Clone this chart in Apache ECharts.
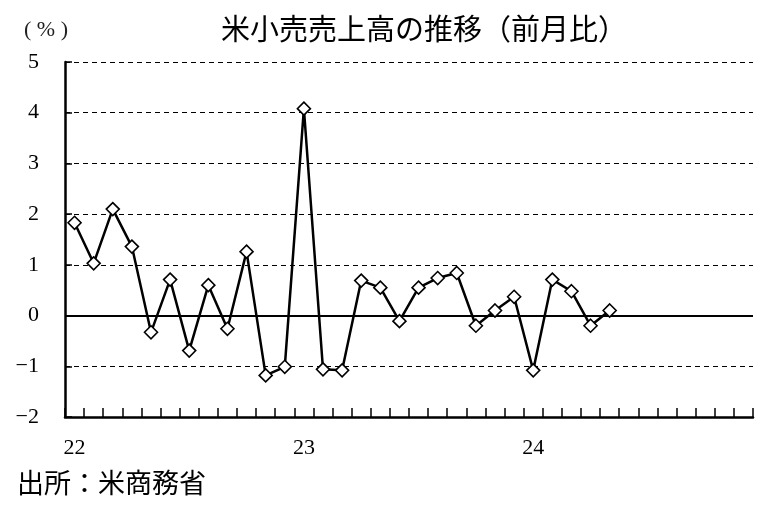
<!DOCTYPE html>
<html><head><meta charset="utf-8">
<script src="https://cdn.jsdelivr.net/npm/echarts@6/dist/echarts.min.js"></script>
<style>html,body{margin:0;padding:0;background:#fff}#c{width:764px;height:506px}</style>
</head><body><div id="c"></div>
<script>
// months Jan 2022 .. Dec 2024
var categories = [];
for (var y = 22; y <= 24; y++) for (var m = 1; m <= 12; m++) categories.push(y + '/' + m);
var yearLabels = {'22/1': '22', '23/1': '23', '24/1': '24'};
var retailMoM = [1.83, 1.03, 2.10, 1.36, -0.33, 0.71, -0.69, 0.60, -0.26, 1.26, -1.18, -1.01,
                 4.08, -1.06, -1.08, 0.69, 0.55, -0.11, 0.55, 0.74, 0.84, -0.20, 0.10, 0.37,
                 -1.08, 0.71, 0.48, -0.20, 0.10];
var yTicks = [-2, -1, 0, 1, 2, 3, 4, 5];

var chart = echarts.init(document.getElementById('c'));
var serif = '"Liberation Serif","DejaVu Serif",serif';
var gothic = '"Noto Sans CJK JP"';
chart.setOption({
  animation: false,
  backgroundColor: '#fff',
  title: {text: '米小売売上高の推移（前月比）', left: 216, top: 9,
    textStyle: {fontFamily: gothic, fontSize: 29, fontWeight: 'normal', color: '#000'}},
  graphic: [
    {type: 'text', left: 24, top: 19, style: {text: '( % )', fontFamily: serif, fontSize: 22, fill: '#222'}},
    {type: 'text', left: 17, top: 469, style: {text: '出所：米商務省', fontFamily: gothic, fontSize: 27, fill: '#000'}}
  ],
  grid: {left: 65, right: 11, top: 62, bottom: 89},
  xAxis: {
    type: 'category', data: categories, boundaryGap: true,
    axisLine: {onZero: false, lineStyle: {color: '#000', width: 2.5}},
    axisTick: {show: true, inside: true, length: 9, interval: 0, lineStyle: {color: '#000', width: 1.5}},
    axisLabel: {interval: 0, margin: 20, fontFamily: serif, fontSize: 22, color: '#000',
      formatter: function (v) { return yearLabels[v] || ''; }}
  },
  yAxis: {
    type: 'value', min: yTicks[0], max: yTicks[yTicks.length - 1], interval: 1,
    axisLine: {show: true, lineStyle: {color: '#000', width: 2.5}},
    axisTick: {show: true, inside: true, length: 7, lineStyle: {color: '#000', width: 1.5}},
    axisLabel: {margin: 26, fontFamily: serif, fontSize: 22, color: '#000',
      formatter: function (v) { return String(v).replace('-', '\u2212'); }},
    splitLine: {show: true, lineStyle: {color: '#000', type: [5, 4], width: 1}}
  },
  series: [{
    type: 'line', data: retailMoM,
    symbol: 'diamond', symbolSize: 13,
    lineStyle: {color: '#000', width: 2.5},
    itemStyle: {color: '#fff', borderColor: '#000', borderWidth: 1.6},
    z: 5,
    markLine: {silent: true, symbol: 'none', label: {show: false},
      lineStyle: {color: '#000', type: 'solid', width: 2},
      data: [{yAxis: 0}], z: 3}
  }]
});
</script></body></html>
